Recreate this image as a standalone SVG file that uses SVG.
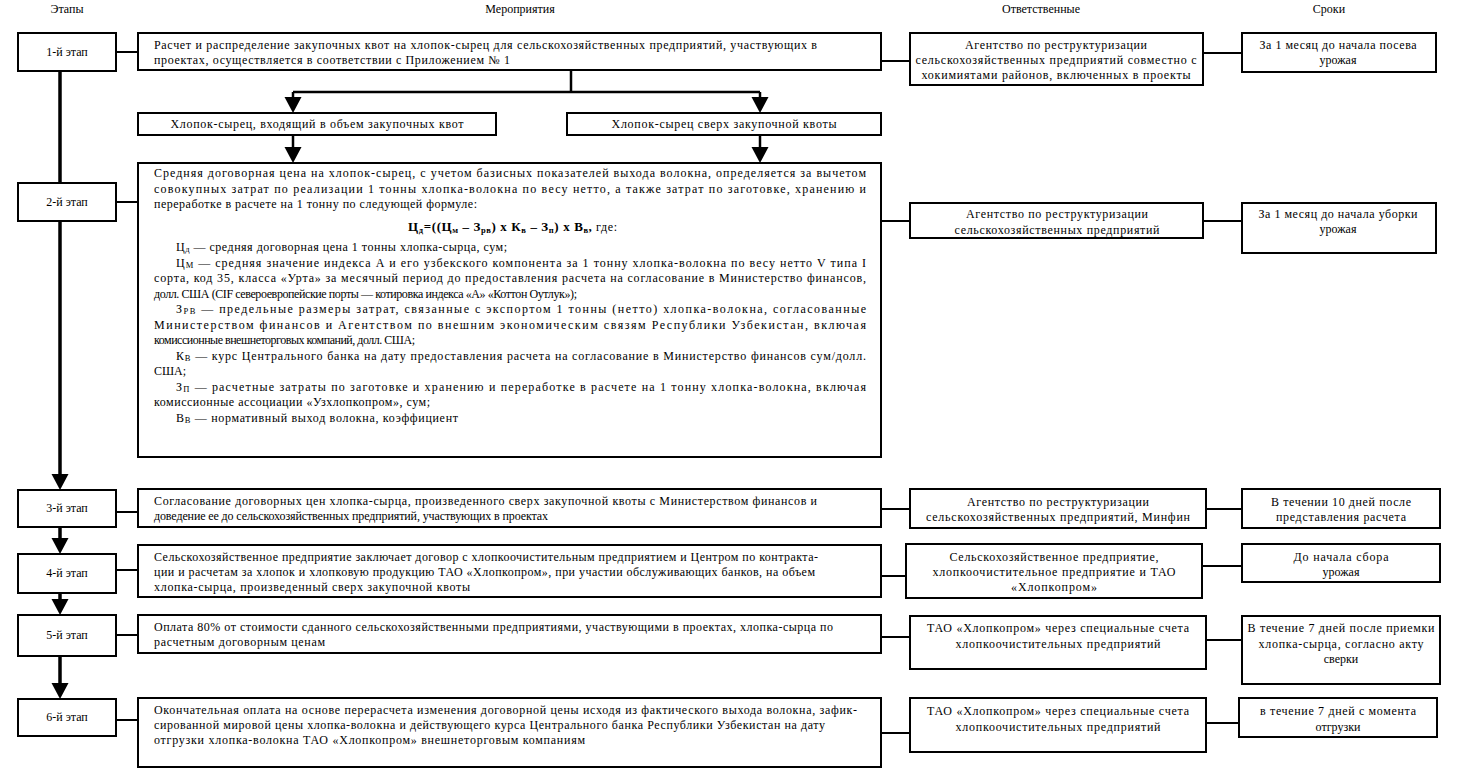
<svg xmlns="http://www.w3.org/2000/svg" width="1471" height="784" viewBox="0 0 1471 784">
<style>
text{font-family:"Liberation Serif","Times New Roman",serif;font-size:12px;fill:#000}
.c{text-anchor:middle}
.b{font-weight:bold}
.f{font-size:13px}
.s{font-size:8.5px}
.box{fill:#fff;stroke:#000;stroke-width:2}
.ln{stroke:#000;stroke-width:2;fill:none}
.br{stroke:#000;stroke-width:2.5;fill:none}
.tk{stroke:#000;stroke-width:3.5;fill:none}
</style>
<defs>
<marker id="ah" markerUnits="userSpaceOnUse" markerWidth="17" markerHeight="18" refX="0" refY="8.5" orient="auto"><path d="M0,0 L16,8.5 L0,17 z" fill="#000"/></marker>
</defs>
<rect width="1471" height="784" fill="#fff"/>
<g id="headers">
<text class="c" x="67" y="13">Этапы</text>
<text class="c" x="520" y="13">Мероприятия</text>
<text class="c" x="1041" y="13">Ответственные</text>
<text class="c" x="1329" y="13">Сроки</text>
</g>
<g id="connectors">
<line class="ln" x1="116" y1="52" x2="138" y2="52"/>
<line class="ln" x1="881" y1="61" x2="910" y2="61"/>
<line class="ln" x1="1203" y1="53" x2="1242" y2="53"/>
<polyline class="br" points="571,70 571,92"/>
<line class="br" x1="293" y1="92" x2="760" y2="92"/>
<line class="br" x1="293" y1="92" x2="293" y2="97" marker-end="url(#ah)"/>
<line class="br" x1="760" y1="92" x2="760" y2="97" marker-end="url(#ah)"/>
<line class="br" x1="293" y1="135" x2="293" y2="147" marker-end="url(#ah)"/>
<line class="br" x1="760" y1="135" x2="760" y2="147" marker-end="url(#ah)"/>
<line class="ln" x1="116" y1="202" x2="138" y2="202"/>
<line class="ln" x1="881" y1="221" x2="910" y2="221"/>
<line class="ln" x1="1203" y1="221" x2="1242" y2="221"/>
<line class="tk" x1="60" y1="71" x2="60" y2="183"/>
<line class="tk" x1="60" y1="221" x2="60" y2="474" marker-end="url(#ah)"/>
<line class="tk" x1="60" y1="527" x2="60" y2="538" marker-end="url(#ah)"/>
<line class="tk" x1="60" y1="593" x2="60" y2="599" marker-end="url(#ah)"/>
<line class="tk" x1="60" y1="656" x2="60" y2="683" marker-end="url(#ah)"/>
<line class="ln" x1="116" y1="512" x2="138" y2="512"/>
<line class="ln" x1="881" y1="509" x2="910" y2="509"/>
<line class="ln" x1="1206" y1="509" x2="1242" y2="509"/>
<line class="ln" x1="116" y1="570" x2="138" y2="570"/>
<line class="ln" x1="881" y1="576" x2="906" y2="576"/>
<line class="ln" x1="1202" y1="566" x2="1242" y2="566"/>
<line class="ln" x1="116" y1="635" x2="138" y2="635"/>
<line class="ln" x1="881" y1="637" x2="910" y2="637"/>
<line class="ln" x1="1206" y1="640" x2="1242" y2="640"/>
<line class="ln" x1="116" y1="720" x2="138" y2="720"/>
<line class="ln" x1="881" y1="733" x2="910" y2="733"/>
<line class="ln" x1="1206" y1="723" x2="1239" y2="723"/>
</g>
<g id="stage1"><rect class="box" x="18" y="33" width="98" height="38"/><text class="c" x="67" y="56">1-й этап</text></g>
<g id="stage2"><rect class="box" x="18" y="183" width="98" height="38"/><text class="c" x="67" y="206">2-й этап</text></g>
<g id="stage3"><rect class="box" x="18" y="490" width="98" height="37"/><text class="c" x="67" y="512">3-й этап</text></g>
<g id="stage4"><rect class="box" x="18" y="554" width="98" height="39"/><text class="c" x="67" y="577">4-й этап</text></g>
<g id="stage5"><rect class="box" x="18" y="615" width="98" height="41"/><text class="c" x="67" y="639">5-й этап</text></g>
<g id="stage6"><rect class="box" x="18" y="699" width="98" height="37"/><text class="c" x="67" y="721">6-й этап</text></g>

<g id="act1"><rect class="box" x="138" y="33" width="743" height="37"/>
<text x="154" y="49" textLength="663" lengthAdjust="spacing">Расчет и распределение закупочных квот на хлопок-сырец для сельскохозяйственных предприятий, участвующих в</text>
<text x="154" y="64" textLength="356" lengthAdjust="spacing">проектах, осуществляется в соответствии с Приложением № 1</text></g>
<g id="branchA"><rect class="box" x="138" y="113" width="358" height="22"/><text class="c" x="317" y="128" textLength="293" lengthAdjust="spacing">Хлопок-сырец, входящий в объем закупочных квот</text></g>
<g id="branchB"><rect class="box" x="567" y="113" width="314" height="22"/><text class="c" x="724" y="128" textLength="225" lengthAdjust="spacing">Хлопок-сырец сверх закупочной квоты</text></g>
<g id="act2"><rect class="box" x="138" y="163" width="743" height="294"/>
<text x="154" y="177" textLength="712" lengthAdjust="spacing">Средняя договорная цена на хлопок-сырец, с учетом базисных показателей выхода волокна, определяется за вычетом</text>
<text x="154" y="192.5" textLength="712" lengthAdjust="spacing">совокупных затрат  по реализации 1 тонны  хлопка-волокна по весу нетто, а также затрат по заготовке, хранению и</text>
<text x="154" y="208" textLength="323" lengthAdjust="spacing">переработке в расчете на 1 тонну по следующей формуле:</text>
<text x="408" y="231" textLength="209" lengthAdjust="spacing"><tspan class="b f">Ц</tspan><tspan class="b s" dy="2">д</tspan><tspan class="b f" dy="-2">=((Ц</tspan><tspan class="b s" dy="2">м</tspan><tspan class="b f" dy="-2"> – З</tspan><tspan class="b s" dy="2">рв</tspan><tspan class="b f" dy="-2">) х К</tspan><tspan class="b s" dy="2">в</tspan><tspan class="b f" dy="-2"> – З</tspan><tspan class="b s" dy="2">п</tspan><tspan class="b f" dy="-2">) х В</tspan><tspan class="b s" dy="2">в</tspan><tspan class="b f" dy="-2">,</tspan> где:</text>
<text x="176" y="251" textLength="331" lengthAdjust="spacing">Ц<tspan class="s" dy="1">д</tspan><tspan dy="-1"> — средняя договорная цена 1 тонны хлопка-сырца, сум;</tspan></text>
<text x="176" y="266.5" textLength="690" lengthAdjust="spacing">Ц<tspan class="s" dy="1">М</tspan><tspan dy="-1"> — средняя значение индекса А и его узбекского компонента за 1 тонну хлопка-волокна по весу нетто V типа I</tspan></text>
<text x="154" y="282" textLength="712" lengthAdjust="spacing">сорта, код 35, класса «Урта» за месячный период до предоставления расчета на согласование в Министерство финансов,</text>
<text x="154" y="297.5" textLength="423" lengthAdjust="spacing">долл. США (CIF североевропейские порты — котировка индекса «А» «Коттон Оутлук»);</text>
<text x="176" y="313" textLength="690" lengthAdjust="spacing">З<tspan class="s" dy="1">РВ</tspan><tspan dy="-1"> — предельные размеры затрат, связанные с экспортом 1 тонны (нетто) хлопка-волокна, согласованные</tspan></text>
<text x="154" y="328.5" textLength="712" lengthAdjust="spacing">Министерством финансов и Агентством по внешним экономическим связям Республики Узбекистан, включая</text>
<text x="154" y="344" textLength="261" lengthAdjust="spacing">комиссионные внешнеторговых компаний, долл. США;</text>
<text x="176" y="359.5" textLength="690" lengthAdjust="spacing">К<tspan class="s" dy="1">В</tspan><tspan dy="-1"> — курс Центрального банка на дату предоставления расчета на согласование в Министерство финансов сум/долл.</tspan></text>
<text x="154" y="375">США;</text>
<text x="176" y="390.5" textLength="690" lengthAdjust="spacing">З<tspan class="s" dy="1">П</tspan><tspan dy="-1"> — расчетные затраты по заготовке и хранению и переработке в расчете на 1 тонну хлопка-волокна, включая</tspan></text>
<text x="154" y="406" textLength="276" lengthAdjust="spacing">комиссионные ассоциации «Узхлопкопром», сум;</text>
<text x="176" y="421.5" textLength="282" lengthAdjust="spacing">В<tspan class="s" dy="1">В</tspan><tspan dy="-1"> — нормативный выход волокна, коэффициент</tspan></text>
</g>
<g id="act3"><rect class="box" x="138" y="489" width="743" height="38"/>
<text x="154" y="505" textLength="663" lengthAdjust="spacing">Согласование договорных цен хлопка-сырца, произведенного сверх закупочной квоты с Министерством финансов и</text>
<text x="154" y="520" textLength="394" lengthAdjust="spacing">доведение ее до сельскохозяйственных предприятий, участвующих в проектах</text></g>
<g id="act4"><rect class="box" x="138" y="545" width="743" height="52"/>
<text x="154" y="561" textLength="664" lengthAdjust="spacing">Сельскохозяйственное предприятие заключает договор с хлопкоочистительным предприятием и Центром по контракта-</text>
<text x="154" y="576" textLength="661" lengthAdjust="spacing">ции и расчетам за хлопок и хлопковую продукцию ТАО «Хлопкопром», при участии обслуживающих банков, на объем</text>
<text x="154" y="591" textLength="316" lengthAdjust="spacing">хлопка-сырца, произведенный сверх закупочной квоты</text></g>
<g id="act5"><rect class="box" x="138" y="615" width="743" height="38"/>
<text x="154" y="631" textLength="679" lengthAdjust="spacing">Оплата 80% от стоимости сданного сельскохозяйственными предприятиями, участвующими в проектах, хлопка-сырца по</text>
<text x="154" y="646" textLength="171" lengthAdjust="spacing">расчетным договорным ценам</text></g>
<g id="act6"><rect class="box" x="138" y="698" width="743" height="69"/>
<text x="154" y="714" textLength="703" lengthAdjust="spacing">Окончательная оплата на основе перерасчета изменения договорной цены исходя из фактического выхода волокна, зафик-</text>
<text x="154" y="729" textLength="671" lengthAdjust="spacing">сированной мировой цены хлопка-волокна и действующего курса Центрального банка Республики Узбекистан на дату</text>
<text x="154" y="744" textLength="431" lengthAdjust="spacing">отгрузки хлопка-волокна ТАО «Хлопкопром» внешнеторговым компаниям</text></g>

<g id="resp1"><rect class="box" x="910" y="33" width="293" height="52"/>
<text class="c" x="1056" y="49" textLength="182" lengthAdjust="spacing">Агентство по реструктуризации</text>
<text class="c" x="1056" y="64" textLength="281" lengthAdjust="spacing">сельскохозяйственных предприятий совместно с</text>
<text class="c" x="1056" y="79" textLength="269" lengthAdjust="spacing">хокимиятами  районов, включенных в проекты</text></g>
<g id="resp2"><rect class="box" x="910" y="203" width="293" height="35"/>
<text class="c" x="1057" y="218" textLength="182" lengthAdjust="spacing">Агентство по реструктуризации</text>
<text class="c" x="1057" y="234" textLength="205" lengthAdjust="spacing">сельскохозяйственных предприятий</text></g>
<g id="resp3"><rect class="box" x="910" y="489" width="296" height="39"/>
<text class="c" x="1058" y="506" textLength="182" lengthAdjust="spacing">Агентство по реструктуризации</text>
<text class="c" x="1058" y="521" textLength="264" lengthAdjust="spacing">сельскохозяйственных предприятий, Минфин</text></g>
<g id="resp4"><rect class="box" x="906" y="544" width="296" height="54"/>
<text class="c" x="1054" y="561" textLength="209" lengthAdjust="spacing">Сельскохозяйственное предприятие,</text>
<text class="c" x="1054" y="576" textLength="243" lengthAdjust="spacing">хлопкоочистительное предприятие и ТАО</text>
<text class="c" x="1054" y="591" textLength="86" lengthAdjust="spacing">«Хлопкопром»</text></g>
<g id="resp5"><rect class="box" x="910" y="616" width="296" height="53"/>
<text class="c" x="1058" y="632" textLength="262" lengthAdjust="spacing">ТАО «Хлопкопром» через специальные счета</text>
<text class="c" x="1058" y="648" textLength="205" lengthAdjust="spacing">хлопкоочистительных предприятий</text></g>
<g id="resp6"><rect class="box" x="910" y="698" width="296" height="54"/>
<text class="c" x="1058" y="715" textLength="262" lengthAdjust="spacing">ТАО «Хлопкопром» через специальные счета</text>
<text class="c" x="1058" y="731" textLength="205" lengthAdjust="spacing">хлопкоочистительных предприятий</text></g>

<g id="term1"><rect class="box" x="1242" y="33" width="194" height="39"/>
<text class="c" x="1338" y="49" textLength="157" lengthAdjust="spacing">За 1 месяц до начала посева</text>
<text class="c" x="1338" y="64">урожая</text></g>
<g id="term2"><rect class="box" x="1242" y="203" width="194" height="50"/>
<text class="c" x="1338" y="218" textLength="159" lengthAdjust="spacing">За 1 месяц до начала уборки</text>
<text class="c" x="1338" y="233">урожая</text></g>
<g id="term3"><rect class="box" x="1242" y="489" width="198" height="39"/>
<text class="c" x="1341" y="506" textLength="140" lengthAdjust="spacing">В течении 10 дней после</text>
<text class="c" x="1341" y="521" textLength="130" lengthAdjust="spacing">представления расчета</text></g>
<g id="term4"><rect class="box" x="1242" y="544" width="198" height="38"/>
<text class="c" x="1341" y="561" textLength="95" lengthAdjust="spacing">До начала сбора</text>
<text class="c" x="1341" y="576">урожая</text></g>
<g id="term5"><rect class="box" x="1242" y="616" width="198" height="68"/>
<text class="c" x="1341" y="632" textLength="187" lengthAdjust="spacing">В течение 7 дней после приемки</text>
<text class="c" x="1341" y="648" textLength="165" lengthAdjust="spacing">хлопка-сырца, согласно акту</text>
<text class="c" x="1341" y="663">сверки</text></g>
<g id="term6"><rect class="box" x="1239" y="698" width="198" height="39"/>
<text class="c" x="1338" y="715" textLength="156" lengthAdjust="spacing">в течение 7 дней с момента</text>
<text class="c" x="1338" y="731">отгрузки</text></g>
</svg>
